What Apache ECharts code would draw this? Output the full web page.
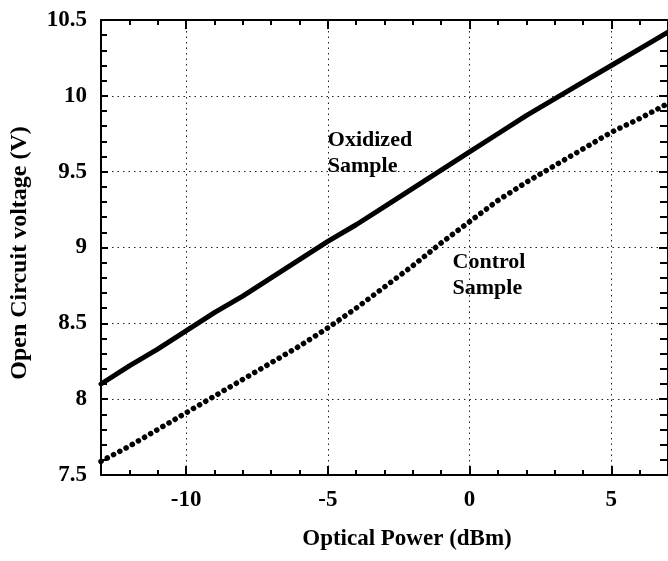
<!DOCTYPE html>
<html><head><meta charset="utf-8">
<script src="https://cdn.jsdelivr.net/npm/echarts@6/dist/echarts.min.js"></script>
<style>html,body{margin:0;padding:0;background:#fff}#c{width:668px;height:561px}</style>
</head><body><div id="c"></div>
<script>
// Optical power (dBm)
const power = [-13,-12,-11,-10,-9,-8,-7,-6,-5,-4,-3,-2,-1,0,1,2,3,4,5,6,7];
// Open circuit voltage (V), oxidized sample (solid line)
const oxidized = [8.10,8.22,8.33,8.45,8.57,8.68,8.80,8.92,9.04,9.15,9.27,9.39,9.51,9.63,9.75,9.87,9.98,10.09,10.20,10.31,10.42];
// Open circuit voltage (V), control sample (dotted line)
const control = [7.59,7.69,7.80,7.91,8.02,8.13,8.24,8.35,8.47,8.60,8.74,8.88,9.03,9.17,9.31,9.43,9.54,9.65,9.76,9.85,9.95];
const xTickValues = [-10,-5,0,5];
const xName = 'Optical Power (dBm)';
const yName = 'Open Circuit voltage (V)';
const notes = [
  {lines:['Oxidized','Sample'], x:-5.0, y:9.79},
  {lines:['Control','Sample'], x:-0.6, y:8.99}
];

const FONT = '"Liberation Serif", "Times New Roman", serif';
const chart = echarts.init(document.getElementById('c'), null, {renderer:'canvas'});
const toPairs = (xs, ys) => xs.map((x,i)=>[x, ys[i]]);
const black = '#000';
const gridLine = {show:true, lineStyle:{color:'#222', width:1, type:[1.5,4]}};

const option = {
  backgroundColor:'#fff',
  animation:false,
  grid:{left:101, top:20, right:-6, bottom:86, containLabel:false},
  xAxis:[
    {type:'value', position:'bottom', min:-13, max:7,
     axisLine:{show:true, onZero:false, lineStyle:{color:black, width:2}},
     axisTick:{show:true, inside:true, length:9, customValues:xTickValues, lineStyle:{color:black, width:2}},
     axisLabel:{show:true, customValues:xTickValues, margin:14, color:black,
       fontFamily:FONT, fontWeight:'bold', fontSize:23, formatter:v=>String(v)},
     splitLine:gridLine,
     name:xName, nameLocation:'middle', nameGap:53,
     nameTextStyle:{fontFamily:FONT, fontWeight:'bold', fontSize:23, color:black, padding:[0,0,0,45]}
    },
    {type:'value', position:'bottom', min:-13, max:7, interval:1,
     axisLine:{show:false, onZero:false},
     axisTick:{show:true, inside:true, length:5, lineStyle:{color:black, width:2}},
     axisLabel:{show:false}, splitLine:{show:false}},
    {type:'value', position:'top', min:-13, max:7,
     axisLine:{show:true, onZero:false, lineStyle:{color:black, width:2}},
     axisTick:{show:true, inside:true, length:9, customValues:xTickValues, lineStyle:{color:black, width:2}},
     axisLabel:{show:false}, splitLine:{show:false}},
    {type:'value', position:'top', min:-13, max:7, interval:1,
     axisLine:{show:false, onZero:false},
     axisTick:{show:true, inside:true, length:5, lineStyle:{color:black, width:2}},
     axisLabel:{show:false}, splitLine:{show:false}}
  ],
  yAxis:[
    {type:'value', position:'left', min:7.5, max:10.5, interval:0.5,
     axisLine:{show:true, onZero:false, lineStyle:{color:black, width:2}},
     axisTick:{show:true, inside:true, length:7, lineStyle:{color:black, width:2}},
     minorTick:{show:true, splitNumber:5, length:6, lineStyle:{color:black, width:2}},
     axisLabel:{show:true, margin:14, color:black, fontFamily:FONT, fontWeight:'bold', fontSize:23,
       formatter:v=>String(+v.toFixed(1))},
     splitLine:gridLine,
     name:yName, nameLocation:'middle', nameGap:69, nameRotate:90,
     nameTextStyle:{fontFamily:FONT, fontWeight:'bold', fontSize:24, color:black, padding:[0,11,0,0]}
    },
    {type:'value', position:'right', min:7.5, max:10.5, interval:0.5,
     axisLine:{show:true, onZero:false, lineStyle:{color:black, width:2}},
     axisTick:{show:true, inside:true, length:9, lineStyle:{color:black, width:2}},
     minorTick:{show:true, splitNumber:5, length:8, lineStyle:{color:black, width:2}},
     axisLabel:{show:false}, splitLine:{show:false}}
  ],
  series:[
    {name:'Oxidized Sample', type:'line', xAxisIndex:0, yAxisIndex:0, data:toPairs(power, oxidized),
     showSymbol:false, symbol:'none', smooth:false,
     lineStyle:{color:black, width:5, cap:'round'}},
    {name:'Control Sample', type:'line', xAxisIndex:0, yAxisIndex:0, data:toPairs(power, control),
     showSymbol:false, symbol:'none', smooth:false,
     lineStyle:{color:black, width:5.5, type:[0.1,7], cap:'round'}}
  ]
};
chart.setOption(option);

const g = [];
notes.forEach(n=>{
  const p = chart.convertToPixel({xAxisIndex:0, yAxisIndex:0}, [n.x, n.y]);
  g.push({type:'text', x:p[0], y:p[1], z:100,
    style:{text:n.lines.join('\n'), fill:black, font:'bold 22px ' + FONT, lineHeight:26,
      align:'left', verticalAlign:'top'}});
});
chart.setOption({graphic:g});
</script></body></html>
